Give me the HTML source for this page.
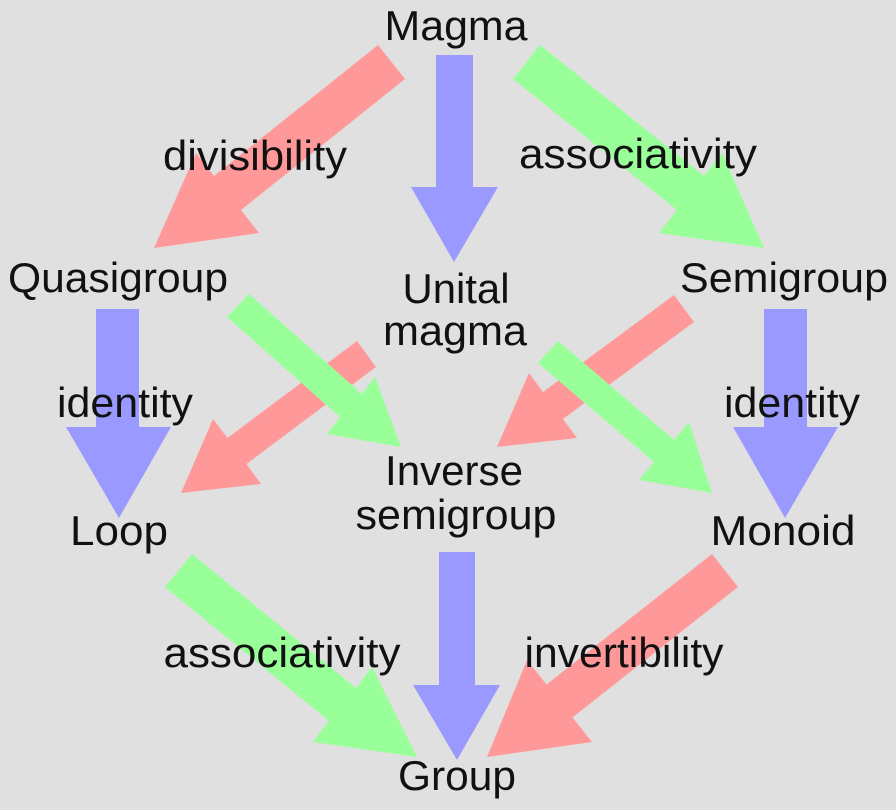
<!DOCTYPE html>
<html><head><meta charset="utf-8"><style>
html,body{margin:0;padding:0;background:#e0e0e0;}
svg{display:block;}
text{font-family:"Liberation Sans",sans-serif;font-size:42px;fill:#111;text-anchor:middle;}
</style></head><body>
<svg width="896" height="810" viewBox="0 0 896 810" xmlns="http://www.w3.org/2000/svg">
<rect width="896" height="810" fill="#e0e0e0"/>
<g fill="#ff9999">
<polygon points="378,45 405,79 241,210 259,233 154,248 196,153 214,176"/>
<polygon points="357,341 376,367 246.5,464 261,484 181,493 213,419 227.5,438"/>
<polygon points="674,295 694,322 563,419 577,438 497,447 529,373 543,392"/>
<polygon points="712,554 738,587 572.5,717.5 592,742 487,757 527,660 546.5,684.5"/>
</g>
<g fill="#9999ff">
<polygon points="436,55 473,55 473,187 498,187 454,262 411,187 436,187"/>
<polygon points="96,309 139,309 139,427 171,427 119,518 66,427 96,427"/>
<polygon points="764,309 807,309 807,427 838,427 785,518 733,427 764,427"/>
<polygon points="439,552 475,552 475,685 500,685 457,760 413,685 439,685"/>
</g>
<g fill="#99ff99">
<polygon points="540,45 513,79 677,210 659,233 764,248 722,153 704,176"/>
<polygon points="249,294 227,317 340,417 327,434 401,447 375,377 362,394"/>
<polygon points="558,341 538,363 654,462 639,480 712,493 689,422 674,440"/>
<polygon points="192,554 165,587 329,721 313,742 417,757 372,667 356,688"/>
</g>
<text x="456" y="40" textLength="143" lengthAdjust="spacingAndGlyphs">Magma</text>
<text x="255" y="170" textLength="184" lengthAdjust="spacingAndGlyphs">divisibility</text>
<text x="638" y="168" textLength="238" lengthAdjust="spacingAndGlyphs">associativity</text>
<text x="118" y="292" textLength="220" lengthAdjust="spacingAndGlyphs">Quasigroup</text>
<text x="456" y="303" textLength="107" lengthAdjust="spacingAndGlyphs">Unital</text>
<text x="455" y="345" textLength="144" lengthAdjust="spacingAndGlyphs">magma</text>
<text x="784" y="292" textLength="208" lengthAdjust="spacingAndGlyphs">Semigroup</text>
<text x="125" y="417" textLength="136" lengthAdjust="spacingAndGlyphs">identity</text>
<text x="792" y="417" textLength="136" lengthAdjust="spacingAndGlyphs">identity</text>
<text x="454" y="485" textLength="138" lengthAdjust="spacingAndGlyphs">Inverse</text>
<text x="456" y="529" textLength="201" lengthAdjust="spacingAndGlyphs">semigroup</text>
<text x="119" y="545" textLength="98" lengthAdjust="spacingAndGlyphs">Loop</text>
<text x="783" y="545" textLength="145" lengthAdjust="spacingAndGlyphs">Monoid</text>
<text x="282" y="667" textLength="237" lengthAdjust="spacingAndGlyphs">associativity</text>
<text x="624" y="667" textLength="199" lengthAdjust="spacingAndGlyphs">invertibility</text>
<text x="457" y="790" textLength="118" lengthAdjust="spacingAndGlyphs">Group</text>
</svg>
</body></html>
